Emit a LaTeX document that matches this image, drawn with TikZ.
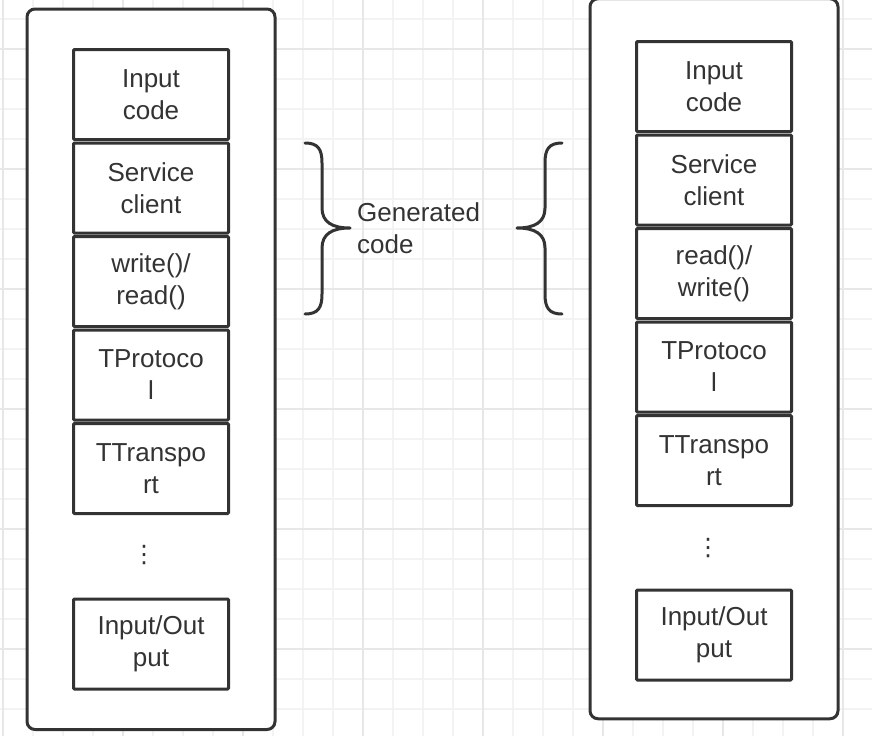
\documentclass[tikz,border=0pt]{standalone}
\usepackage{fontspec}
\setmainfont{Liberation Sans}
\newfontfamily\symbolfont{DejaVu Sans}
\definecolor{ink}{RGB}{51,51,51}
\definecolor{gridlight}{RGB}{243,243,243}
\definecolor{griddark}{RGB}{231,231,231}
\usetikzlibrary{positioning,fit,backgrounds}

\begin{document}
\begin{tikzpicture}[x=1pt, y=-1pt,
        layer/.style={rectangle, draw=ink, line width=3pt, fill=white,
                      minimum width=155pt, minimum height=90pt,
                      align=center, rounded corners=1pt, text=ink,
                      font=\fontsize{26}{32}\selectfont},
        outerbox/.style={rectangle, draw=ink, line width=3pt, fill=white,
                         rounded corners=8pt, inner xsep=45pt, inner ysep=39pt},
        more/.style={text=ink, font=\symbolfont\fontsize{24}{24}\selectfont, inner sep=0pt},
        note/.style={text=ink, align=left, inner sep=0pt,
                     font=\fontsize{26}{32}\selectfont},
        bracepath/.style={draw=ink, line width=3pt, line cap=round, line join=round},
        thinline/.style={gridlight, line width=2pt},
        thickline/.style={griddark, line width=2pt},
        node distance=0.5pt
    ]
    \useasboundingbox (0,0) rectangle (872,736);

    % left stack
    \node[layer] (lin) at (151,94.5) {Input\\code};
    \node[layer, below=of lin]   (lsvc)   {Service\\client};
    \node[layer, below=of lsvc]  (lwr)    {write()/\\read()};
    \node[layer, below=of lwr]   (lprot)  {TProtoco\\l};
    \node[layer, below=of lprot] (ltrans) {TTranspo\\rt};
    \node[more] (ldots) at (144,555) {⋮};
    \node[layer] (lio) at (151,644) {Input/Out\\put};

    % right stack
    \node[layer] (rin) at (714,86.5) {Input\\code};
    \node[layer, below=of rin]   (rsvc)   {Service\\client};
    \node[layer, below=of rsvc]  (rrd)    {read()/\\write()};
    \node[layer, below=of rrd]   (rprot)  {TProtoco\\l};
    \node[layer, below=of rprot] (rtrans) {TTranspo\\rt};
    \node[more] (rdots) at (708,548) {⋮};
    \node[layer] (rio) at (714,635) {Input/Out\\put};

    \node[note, anchor=west] (gen) at (357,228) {Generated\\code};

    % braces
    \draw[bracepath] (305,143) .. controls (318,143) and (322,149) .. (322,163)
        -- (322,208) .. controls (322,222) and (332,228) .. (350,228)
        .. controls (332,228) and (322,234) .. (322,248)
        -- (322,294) .. controls (322,308) and (318,314) .. (305,314);
    \draw[bracepath] (562,143) .. controls (549,143) and (545,149) .. (545,163)
        -- (545,208) .. controls (545,222) and (535,228) .. (517,228)
        .. controls (535,228) and (545,234) .. (545,248)
        -- (545,294) .. controls (545,308) and (549,314) .. (562,314);

    \begin{scope}[on background layer]
        \foreach \x in {3,33,...,873} \draw[thinline] (\x,0) -- (\x,736);
        \foreach \y in {19,49,...,739} \draw[thinline] (0,\y) -- (872,\y);
        \foreach \x in {3,123,...,843} \draw[thickline] (\x,0) -- (\x,736);
        \foreach \y in {49,169,...,649} \draw[thickline] (0,\y) -- (872,\y);
        \node[outerbox, fit=(lin)(lio)] (lframe) {};
        \node[outerbox, fit=(rin)(rio), yshift=2pt, minimum height=720pt] (rframe) {};
    \end{scope}
\end{tikzpicture}
\end{document}
